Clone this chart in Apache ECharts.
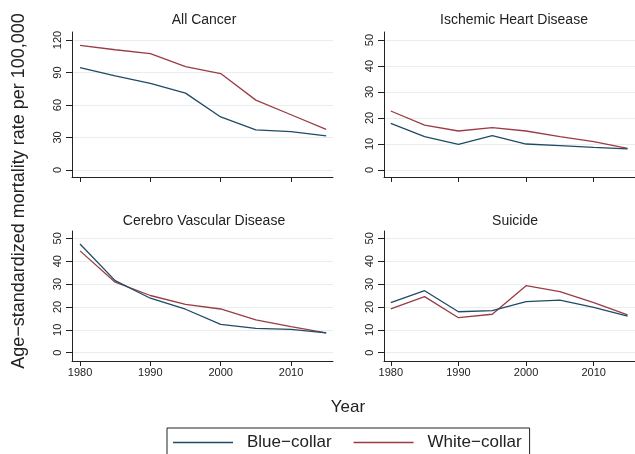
<!DOCTYPE html>
<html>
<head>
<meta charset="utf-8">
<script src="https://cdn.jsdelivr.net/npm/echarts@6/dist/echarts.min.js"></script>
<style>
html,body{margin:0;padding:0;background:#fff;}
#chart{width:635px;height:454px;}
</style>
</head>
<body>
<div id="chart"></div>
<script>
// ---- data ----
var years = [1980, 1985, 1990, 1995, 2000, 2005, 2010, 2015];
var panelTitles = ['All Cancer', 'Ischemic Heart Disease', 'Cerebro Vascular Disease', 'Suicide'];
var seriesNames = ['Blue\u2212collar', 'White\u2212collar'];
var cancerBlue  = [94.5, 87, 80, 71, 49, 37, 35.5, 31.5];
var cancerWhite = [115, 111, 107.5, 95.5, 89, 64.5, 51, 37.5];
var ihdBlue  = [17.9, 12.8, 9.9, 13.2, 10, 9.4, 8.7, 8.1];
var ihdWhite = [22.7, 17.3, 15, 16.3, 15, 12.8, 10.9, 8.3];
var cvdBlue  = [47.5, 31.5, 23.8, 19, 12.4, 10.6, 10.2, 8.7];
var cvdWhite = [44.5, 30.8, 25, 21.1, 19.1, 14.3, 11.4, 8.7];
var suiBlue  = [21.9, 27.1, 17.9, 18.4, 22.3, 23, 19.8, 16];
var suiWhite = [19.2, 24.5, 15.3, 16.8, 29.3, 26.7, 21.9, 16.5];
var xTicks = [1980, 1990, 2000, 2010];
var yTicksCancer = [0, 30, 60, 90, 120];
var yTicksOther = [0, 10, 20, 30, 40, 50];
var yTitle = 'Age\u2212standardized mortality rate per 100,000';
var xTitle = 'Year';

// ---- layout ----
var FONT = '"Liberation Sans", Arial, sans-serif';
var BLUE = '#1f4b66';
var RED = '#9a3c45';
var grids = [
  {left: 72,  top: 32,  width: 261, height: 145},
  {left: 384, top: 32,  width: 262, height: 145},
  {left: 72,  top: 231, width: 261, height: 130},
  {left: 384, top: 231, width: 262, height: 130}
];
var yRanges = [[-6.46, 127.4], [-2.69, 53.08], [-3.63, 53.19], [-3.63, 53.19]];
var xRanges = [[1978.86, 2015.97], [1979.0, 2016.1], [1978.86, 2015.97], [1979.0, 2016.1]];
var panelData = [[cancerBlue, cancerWhite], [ihdBlue, ihdWhite], [cvdBlue, cvdWhite], [suiBlue, suiWhite]];
var titlePos = [[204, 20], [514, 20], [204, 221], [515, 221]];

var xAxes = [], yAxes = [], series = [], graphics = [];
for (var i = 0; i < 4; i++) {
  var showXLabel = i >= 2;
  xAxes.push({
    type: 'value', gridIndex: i, min: xRanges[i][0], max: xRanges[i][1],
    axisLine: {show: true, onZero: false, lineStyle: {color: '#222', width: 1}},
    axisTick: {show: true, length: 5, customValues: xTicks, lineStyle: {color: '#222'}},
    axisLabel: {show: showXLabel, customValues: xTicks, margin: 6, fontSize: 11, fontFamily: FONT, color: '#222', formatter: function (v) { return String(v); }},
    splitLine: {show: false}
  });
  var yt = i === 0 ? yTicksCancer : yTicksOther;
  yAxes.push({
    type: 'value', gridIndex: i, min: yRanges[i][0], max: yRanges[i][1],
    axisLine: {show: true, onZero: false, lineStyle: {color: '#222', width: 1}},
    axisTick: {show: true, length: 6, customValues: yt, lineStyle: {color: '#222'}},
    axisLabel: {show: true, customValues: yt, rotate: 90, margin: 9, fontSize: 11, fontFamily: FONT, color: '#222'},
    splitLine: {show: true, lineStyle: {color: '#e8eef0', width: 1}}
  });
  for (var s = 0; s < 2; s++) {
    var arr = panelData[i][s];
    series.push({
      type: 'line', name: seriesNames[s], xAxisIndex: i, yAxisIndex: i,
      data: years.map(function (y, k) { return [y, arr[k]]; }),
      showSymbol: false, symbol: 'none', animation: false,
      lineStyle: {color: s === 0 ? BLUE : RED, width: 1.3},
      itemStyle: {color: s === 0 ? BLUE : RED},
      z: s === 0 ? 3 : 2
    });
  }
  graphics.push({
    type: 'text', x: titlePos[i][0], y: titlePos[i][1],
    style: {text: panelTitles[i], font: '14px ' + FONT, fill: '#222', align: 'center', verticalAlign: 'middle'}
  });
}
graphics.push({
  type: 'text', x: 19, y: 191, rotation: Math.PI / 2,
  style: {text: yTitle, font: '18px ' + FONT, fill: '#222', align: 'center', verticalAlign: 'middle'}
});
graphics.push({
  type: 'text', x: 348, y: 407,
  style: {text: xTitle, font: '17px ' + FONT, fill: '#222', align: 'center', verticalAlign: 'middle'}
});

var chart = echarts.init(document.getElementById('chart'), null, {renderer: 'canvas'});
chart.setOption({
  backgroundColor: '#fff',
  animation: false,
  grid: grids,
  xAxis: xAxes,
  yAxis: yAxes,
  series: series,
  legend: {
    data: seriesNames.map(function (n, k) { return {name: n, icon: 'rect', itemStyle: {color: k === 0 ? BLUE : RED}}; }),
    left: 167, top: 428,
    padding: [6, 8, 12, 6],
    itemWidth: 60, itemHeight: 1.3, itemGap: 22,
    borderColor: '#222', borderWidth: 1,
    textStyle: {fontSize: 17, fontFamily: FONT, color: '#222', padding: [0, 0, 0, 9]},
    selectedMode: false
  },
  graphic: graphics
});
</script>
</body>
</html>
